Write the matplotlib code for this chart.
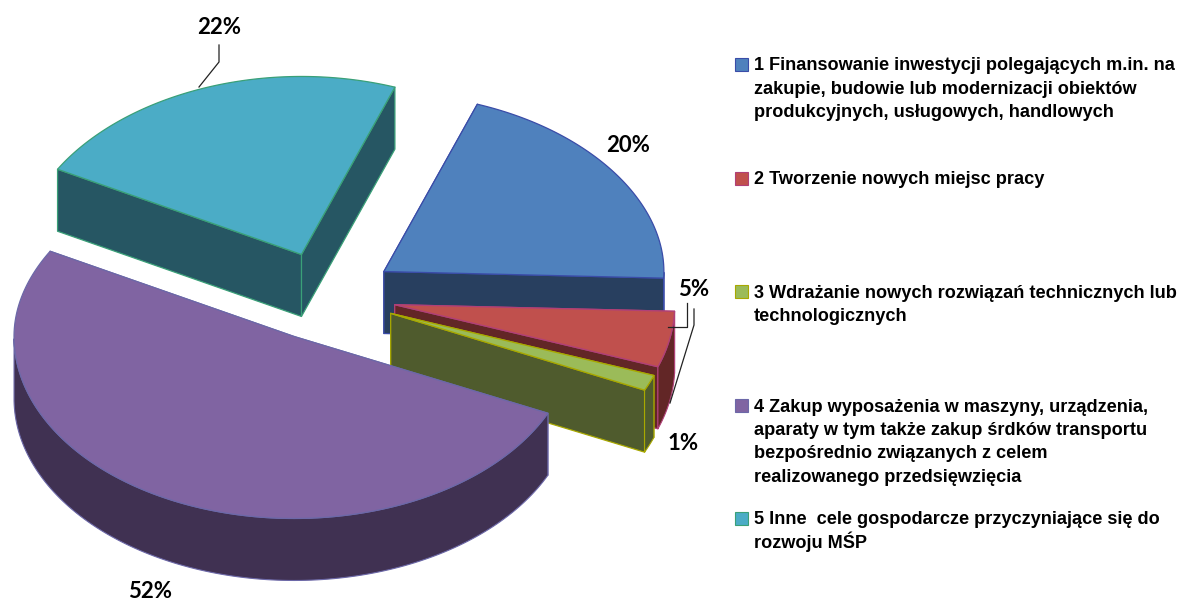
import matplotlib
matplotlib.use("Agg")
import matplotlib.pyplot as plt
from matplotlib.patches import Polygon, Rectangle
import numpy as np

# data
shares = [20.3, 5.0, 1.4, 51.6, 22.4]
legend_lines = [
    ["1 Finansowanie inwestycji polegających m.in. na",
     "zakupie, budowie lub modernizacji obiektów",
     "produkcyjnych, usługowych, handlowych"],
    ["2 Tworzenie nowych miejsc pracy"],
    ["3 Wdrażanie nowych rozwiązań technicznych lub",
     "technologicznych"],
    ["4 Zakup wyposażenia w maszyny, urządzenia,",
     "aparaty w tym także zakup śrdków transportu",
     "bezpośrednio związanych z celem",
     "realizowanego przedsięwzięcia"],
    ["5 Inne  cele gospodarcze przyczyniające się do",
     "rozwoju MŚP"],
]

# colours per slice
top_colors = ["#4F81BD", "#C0504D", "#9BBB59", "#8064A2", "#4BACC6"]
side_colors = ["#283F5F", "#622626", "#4F5B2D", "#403152", "#265663"]
edge_colors = ["#3A4CA8", "#B04078", "#A8A800", "#6C68A8", "#3AA078"]

# pie geometry, in pixels of the picture
CENTER = (326.0, 296.0)
RX = 280.0
RY_BACK = 178.0
RY_FRONT = 182.0
BACK_BEND = 0.95  # a bit of perspective on the far half
DEPTH = 62.0
EXPLODE = 0.25
START_ANGLE = 70.5

# back to front
DRAW_ORDER = [0, 4, 1, 2, 3]

# label anchors (center x, center y) per slice
LABEL_POS = [(628, 145), (694, 289), (683, 444), (150, 592), (219, 27)]
LEGEND_Y = [64, 178, 291, 405, 518]
LINE_STEP = 23.4


def project(deg):
    """角度 -> 天面の楕円上のオフセット (x, y)"""
    rad = np.radians(deg)
    v = np.sin(rad)
    back = RY_BACK * (BACK_BEND * v + (1 - BACK_BEND) * v ** 2)
    y = np.where(v >= 0, -back, -RY_FRONT * v)
    return RX * np.cos(rad), y


def draw_slice(ax, start, end, top, side, edge):
    mid = (start + end) / 2
    ox, oy = project(mid)
    ax0 = CENTER[0] + EXPLODE * ox
    ay0 = CENTER[1] + EXPLODE * oy

    angles = np.linspace(start, end, 160)
    dx, dy = project(angles)
    arc = np.column_stack([ax0 + dx, ay0 + dy])
    apex = np.array([ax0, ay0])
    drop = np.array([0, DEPTH])

    # radial walls, the one further back first
    for p in sorted((arc[0], arc[-1]), key=lambda q: q[1]):
        wall = np.array([apex, p, p + drop, apex + drop])
        ax.add_patch(Polygon(wall, fc=side, ec=edge, lw=0.9, joinstyle="round"))

    # outer wall, only the part that faces the viewer
    near = arc[np.sin(np.radians(angles)) < 0]
    if len(near) > 1:
        outer = np.vstack([near, (near + drop)[::-1]])
        ax.add_patch(Polygon(outer, fc=side, ec=edge, lw=0.8, joinstyle="round"))

    # top face
    face = np.vstack([apex, arc])
    ax.add_patch(Polygon(face, fc=top, ec=edge, lw=0.9, joinstyle="round"))


fig = plt.figure(figsize=(11.86, 6.01), dpi=100)
ax = fig.add_axes([0, 0, 1, 1])
ax.set_xlim(0, 1186)
ax.set_ylim(601, 0)
ax.axis("off")

sweeps = np.array(shares) / sum(shares) * 360
ends = START_ANGLE - np.cumsum(sweeps)
starts = ends + sweeps

for i in DRAW_ORDER:
    draw_slice(ax, ends[i], starts[i], top_colors[i], side_colors[i], edge_colors[i])

# leader lines
ax.plot([219, 219, 199], [45, 62, 87], color="#222222", lw=0.9)
ax.plot([687, 687, 668], [303, 327, 327], color="#222222", lw=0.9)
ax.plot([694, 694, 670], [309, 325, 403], color="#222222", lw=0.9)

# percent labels
for share, (lx, ly) in zip(shares, LABEL_POS):
    ax.text(lx, ly, f"{round(share)}%", family="Lato", weight="bold", fontsize=16,
            color="black", ha="center", va="center")

# legend
for lines, y0, top, edge in zip(legend_lines, LEGEND_Y, top_colors, edge_colors):
    ax.add_patch(Rectangle((735, y0 - 6.5), 13, 13, fc=top, ec=edge, lw=0.8))
    for n, line in enumerate(lines):
        ax.text(754, y0 + 6.5 + n * LINE_STEP, line, family="Liberation Sans", weight="bold",
                fontsize=13.1, color="black", ha="left", va="baseline")

fig.savefig("out.png", dpi=100)
